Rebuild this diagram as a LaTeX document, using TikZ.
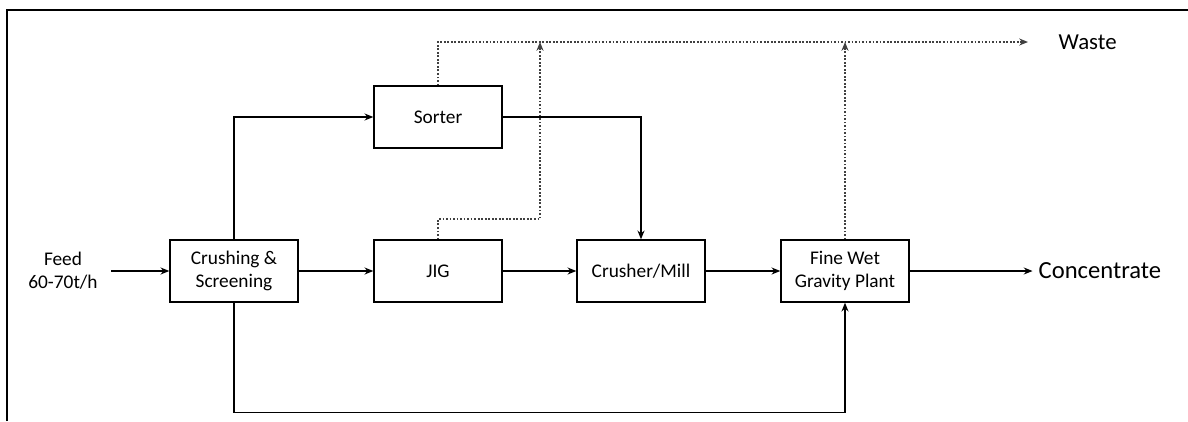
\documentclass[tikz,border=0pt]{standalone}
\usepackage{fontspec}
\setmainfont{Carlito}
\usetikzlibrary{arrows.meta}
\begin{document}
\begin{tikzpicture}[>={Stealth[length=5pt,width=4pt]},
		box/.style={draw, line width=0.8pt, minimum width=2.56cm, minimum height=1.24cm, align=center, font=\fontsize{11}{13}\selectfont},
		flow/.style={->, line width=0.6pt},
		reject/.style={->, densely dotted, line width=1pt, gray!50!black}]
	\useasboundingbox (0,0) rectangle (23.76,-8.42);
	% Rahmen
	\draw[line width=1pt] (0.14,-8.42) -- (0.14,-0.2) -- (23.76,-0.2);
	% Anlagenteile
	\node[align=center, font=\fontsize{11}{13}\selectfont] (feed) at (1.26,-5.42) {Feed\\60-70t/h};
	\node[box] (crush) at (4.68,-5.42) {Crushing \&\\Screening};
	\node[box] (sorter) at (8.76,-2.34) {Sorter};
	\node[box] (jig) at (8.76,-5.42) {JIG};
	\node[box] (mill) at (12.82,-5.42) {Crusher/Mill};
	\node[box] (gravity) at (16.9,-5.42) {Fine Wet\\Gravity Plant};
	\node[anchor=west, font=\fontsize{14}{16}\selectfont] (conc) at (20.65,-5.42) {Concentrate};
	\node[anchor=west, font=\fontsize{13}{15}\selectfont] (waste) at (21.05,-0.84) {Waste};
	\coordinate (wasteend) at (20.56,-0.84);
	\coordinate (jigjoin) at (10.8,-0.84);
	% Hauptstrom
	\draw[flow] (feed.east) ++(0.15,0) -- (crush.west);
	\draw[flow] (crush) -- (jig);
	\draw[flow] (jig) -- (mill);
	\draw[flow] (mill) -- (gravity);
	\draw[flow] (gravity) -- (conc);
	\draw[flow] (crush.north) |- (sorter.west);
	\draw[flow] (sorter.east) -| (mill.north);
	\draw[flow] (crush.south) -- ++(0,-2.2) -| (gravity.south);
	% Abgaenge
	\draw[reject] (sorter.north) |- (wasteend);
	\draw[reject] (jig.north) -- ++(0,0.4) -| (jigjoin);
	\draw[reject] (gravity.north) -- (gravity.north |- wasteend);
\end{tikzpicture}
\end{document}
